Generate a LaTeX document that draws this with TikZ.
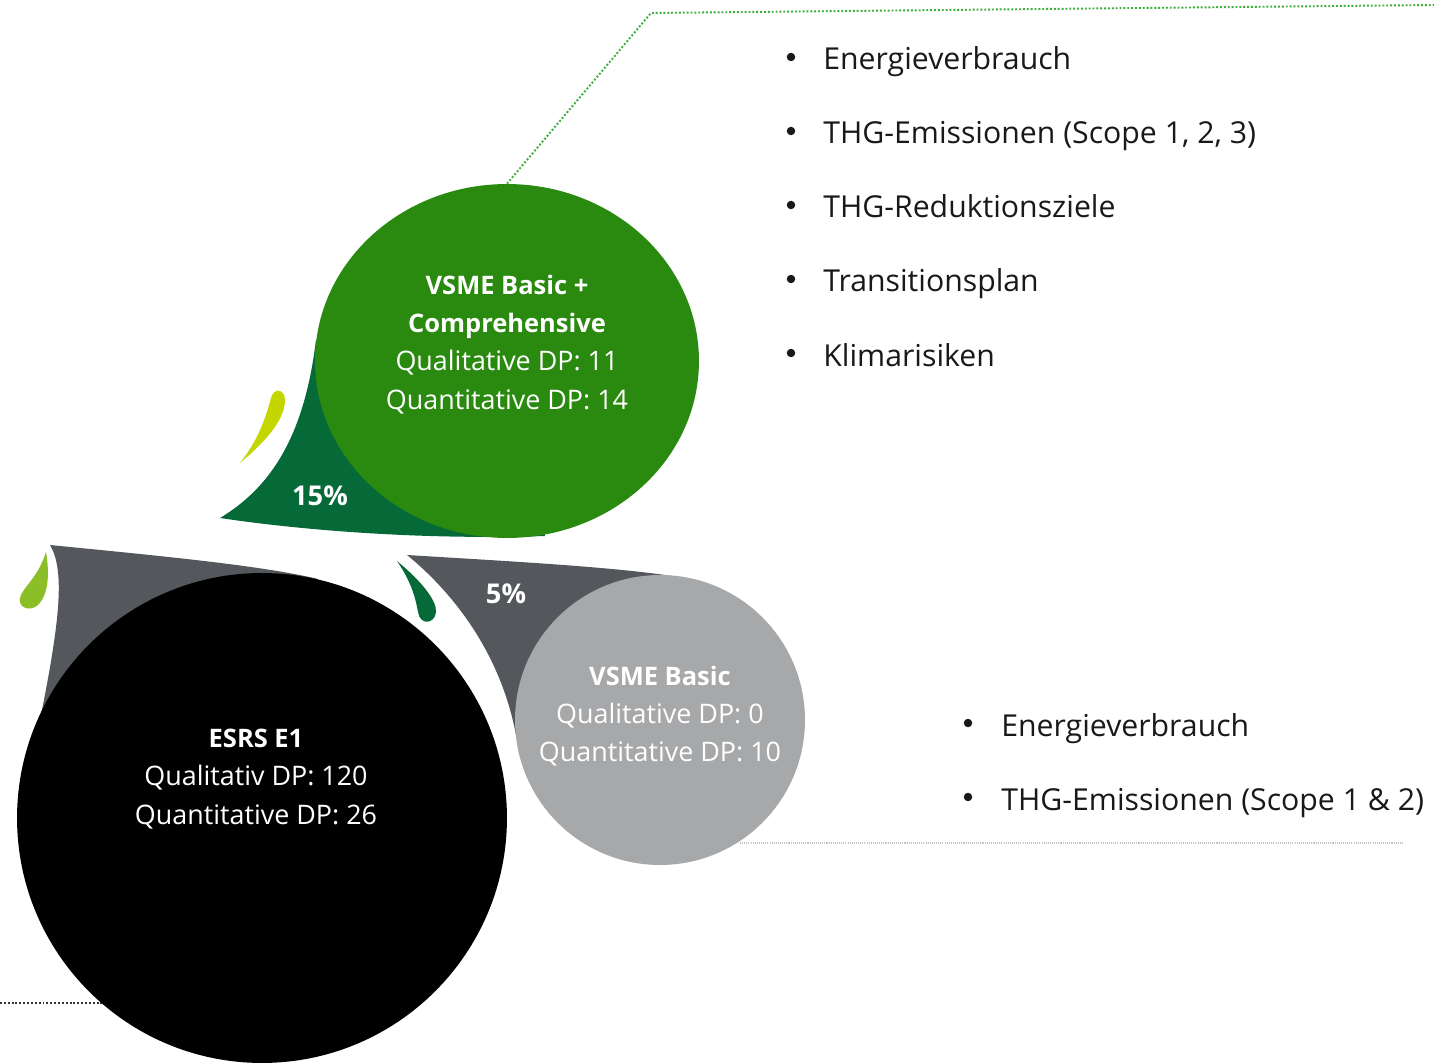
\documentclass[tikz,border=0pt]{standalone}
\usepackage{fontspec}
\setmainfont{Open Sans}
\usetikzlibrary{shapes.geometric}
\definecolor{maingreen}{RGB}{41,138,15}
\definecolor{darkgreen}{RGB}{5,106,56}
\definecolor{darkgray}{RGB}{84,87,92}
\definecolor{lightgray}{RGB}{167,168,170}
\definecolor{limeleaf}{RGB}{140,190,40}
\definecolor{yellowleaf}{RGB}{196,214,0}
\definecolor{dotgreen}{RGB}{60,175,60}
\definecolor{dotgray}{RGB}{195,195,195}
\definecolor{textdark}{RGB}{25,25,25}
\tikzset{
  bubble/.style={draw=none, inner sep=0},
  circtext/.style={text=white, font=\fontsize{15.3}{18}\selectfont, anchor=base, inner sep=0},
  titletext/.style={circtext, font=\fontsize{14.5}{18}\selectfont\bfseries},
  pcttext/.style={text=white, font=\fontsize{15.5}{18}\selectfont\bfseries, anchor=base, inner sep=0},
  bultext/.style={text=textdark, font=\fontsize{17.2}{20}\selectfont, anchor=base west, inner sep=0},
  bulmark/.style={circle, fill=textdark, minimum size=0.17cm, inner sep=0},
  greendots/.style={draw=dotgreen, line width=1.1pt, dash pattern=on 1.1pt off 1.1pt},
  graydots/.style={draw=dotgray, line width=0.6pt, dash pattern=on 0.6pt off 0.6pt},
  blackdots/.style={draw=black!80, line width=1.1pt, dash pattern=on 1.1pt off 1.1pt}
}
\begin{document}
\begin{tikzpicture}[x=0.02cm,y=-0.02cm]
\clip (0,0) rectangle (1434,1064);
\fill[white] (0,0) rectangle (1434,1064);

% connectors (dotted)
\coordinate (gbend) at (651,13);
\coordinate (gend) at (1434,5);
\coordinate (grayA) at (740,843);
\coordinate (grayB) at (1403,843);
\coordinate (blkA) at (0,1003);
\coordinate (blkB) at (130,1003);
\draw[graydots] (grayA) -- (grayB);
\draw[blackdots] (blkA) -- (blkB);

% dark green tail behind green bubble
\fill[darkgreen] (220,518) .. controls (275,485) and (305,430) .. (316,340)
  -- (507,362) -- (545,536) .. controls (420,540) and (300,530) .. (220,518) -- cycle;
% gray tail behind black bubble
\fill[darkgray] (50,545) .. controls (150,555) and (260,565) .. (318,579)
  -- (262,818) -- (41,715) .. controls (60,620) and (65,570) .. (50,545) -- cycle;
% gray tail behind light gray bubble
\fill[darkgray] (407,555) .. controls (520,562) and (640,568) .. (700,581)
  -- (660,720) -- (516,735) .. controls (500,650) and (450,590) .. (407,555) -- cycle;

% leaves
\fill[yellowleaf] (240,463) .. controls (265,442) and (285,420) .. (285,400)
  .. controls (285,389) and (274,387) .. (271,398)
  .. controls (265,420) and (258,440) .. (240,463) -- cycle;
\fill[limeleaf] (46,552) .. controls (50,575) and (48,595) .. (38,605)
  .. controls (30,612) and (18,608) .. (20,598)
  .. controls (22,588) and (38,578) .. (46,552) -- cycle;
\fill[darkgreen] (397,561) .. controls (420,580) and (437,600) .. (436,612)
  .. controls (435,624) and (420,626) .. (418,612)
  .. controls (415,595) and (410,580) .. (397,561) -- cycle;

% bubbles
\node[bubble, ellipse, fill=maingreen, minimum width=7.68cm, minimum height=7.08cm] (green) at (507,361) {};
\node[bubble, circle, fill=black, minimum size=9.8cm] (esrs) at (262,818) {};
\node[bubble, circle, fill=lightgray, minimum size=5.8cm] (basic) at (660,720) {};

\draw[greendots] (green.north) -- (gbend) -- (gend);

% bubble texts (positions are baselines)
\node[titletext] (g1) at (507,295) {VSME Basic +};
\node[titletext] (g2) at (507,333) {Comprehensive};
\node[circtext] (g3) at (507,371) {Qualitative DP: 11};
\node[circtext] (g4) at (507,409) {Quantitative DP: 14};
\node[pcttext] (p15) at (320,505) {15\%};
\node[pcttext] (p5) at (506,603) {5\%};
\node[titletext] (e1) at (256,747) {ESRS E1};
\node[circtext] (e2) at (256,785) {Qualitativ DP: 120};
\node[circtext] (e3) at (256,824) {Quantitative DP: 26};
\node[titletext] (b1) at (660,685) {VSME Basic};
\node[circtext] (b2) at (660,723) {Qualitative DP: 0};
\node[circtext] (b3) at (660,761) {Quantitative DP: 10};

% bullet lists
\foreach \yy/\txt [count=\i] in {59/Energieverbrauch, 133/{THG-Emissionen (Scope 1, 2, 3)}, 207/THG-Reduktionsziele, 281/Transitionsplan, 355/Klimarisiken}{
  \node[bulmark] (ma\i) at (791,\yy-2) {};
  \node[bultext] (la\i) at (823,\yy+11) {\txt};
}
\foreach \yy/\txt [count=\i] in {725/Energieverbrauch, 799/{THG-Emissionen (Scope 1 \& 2)}}{
  \node[bulmark] (mb\i) at (968,\yy-2) {};
  \node[bultext] (lb\i) at (1001,\yy+11) {\txt};
}
\end{tikzpicture}
\end{document}
